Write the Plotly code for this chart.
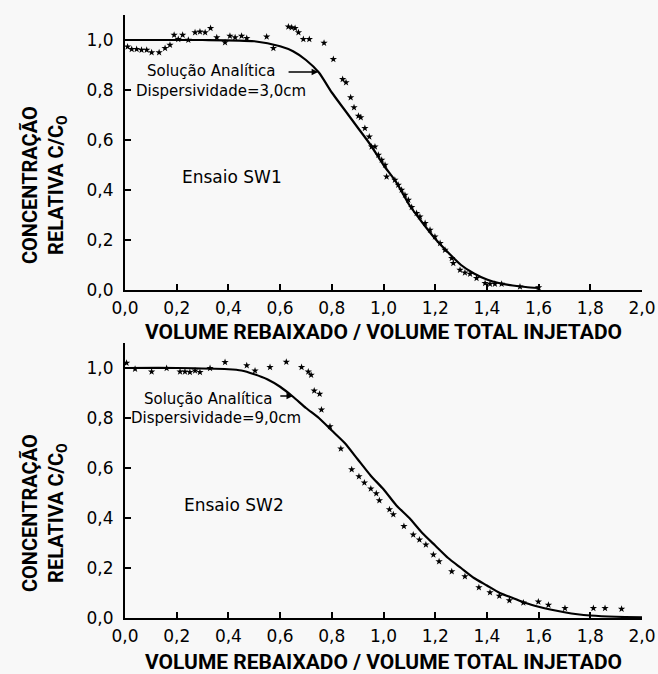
import plotly.graph_objects as go

# ---------------- DATA ----------------
# Ensaio SW1 (top panel) - analytical solution (dispersividade 3,0 cm)
sw1_curve_v = [0.0, 0.3, 0.5, 0.6, 0.65, 0.7, 0.75, 0.8, 0.85, 0.9, 0.95, 1.0, 1.05, 1.1,
               1.15, 1.2, 1.25, 1.3, 1.35, 1.4, 1.45, 1.5, 1.55, 1.6]
sw1_curve_c = [1.0, 1.0, 0.995, 0.975, 0.955, 0.92, 0.87, 0.79, 0.72, 0.65, 0.58, 0.50, 0.43, 0.34,
               0.27, 0.205, 0.15, 0.10, 0.066, 0.042, 0.027, 0.018, 0.012, 0.008]
# Ensaio SW1 observed points
sw1_obs_v = [0.01, 0.026, 0.045, 0.064, 0.084, 0.103, 0.132, 0.155, 0.174, 0.19, 0.206, 0.223,
             0.245, 0.271, 0.29, 0.31, 0.331, 0.355, 0.387, 0.406, 0.426, 0.451, 0.471, 0.548,
             0.574, 0.632, 0.645, 0.658, 0.671, 0.69, 0.713, 0.77, 0.806, 0.842, 0.855, 0.873,
             0.886, 0.903, 0.912, 0.928, 0.945, 0.954, 0.967, 0.98, 0.993, 1.006, 1.012, 1.044,
             1.057, 1.07, 1.083, 1.096, 1.109, 1.128, 1.141, 1.161, 1.18, 1.199, 1.219, 1.238,
             1.264, 1.27, 1.296, 1.315, 1.335, 1.36, 1.393, 1.412, 1.431, 1.457, 1.528, 1.6]
sw1_obs_c = [0.973, 0.963, 0.963, 0.96, 0.96, 0.95, 0.95, 0.967, 0.98, 1.02, 1.003, 1.02,
             1.0, 1.03, 1.033, 1.03, 1.047, 1.01, 0.99, 1.016, 1.01, 1.016, 1.007, 1.013,
             0.967, 1.053, 1.05, 1.047, 1.03, 1.003, 1.003, 0.988, 0.923, 0.843, 0.83, 0.77,
             0.73, 0.696, 0.69, 0.647, 0.613, 0.573, 0.573, 0.54, 0.52, 0.50, 0.453, 0.44,
             0.42, 0.40, 0.38, 0.36, 0.331, 0.307, 0.293, 0.267, 0.24, 0.213, 0.187, 0.16,
             0.127, 0.107, 0.08, 0.069, 0.064, 0.047, 0.027, 0.024, 0.024, 0.024, 0.013, 0.01]

# Ensaio SW2 (bottom panel) - analytical solution (dispersividade 9,0 cm)
sw2_curve_v = [0.0, 0.2, 0.4, 0.45, 0.5, 0.55, 0.6, 0.65, 0.7, 0.75, 0.8, 0.85, 0.9, 0.95, 1.0,
               1.05, 1.1, 1.15, 1.2, 1.25, 1.3, 1.35, 1.4, 1.45, 1.5, 1.55, 1.6, 1.65, 1.7,
               1.75, 1.8, 1.9, 2.0]
sw2_curve_c = [1.0, 1.0, 0.995, 0.99, 0.975, 0.955, 0.925, 0.885, 0.84, 0.80, 0.75, 0.70, 0.635,
               0.57, 0.515, 0.45, 0.40, 0.34, 0.29, 0.24, 0.20, 0.16, 0.13, 0.10, 0.08, 0.06,
               0.045, 0.033, 0.023, 0.015, 0.01, 0.005, 0.003]
# Ensaio SW2 observed points
sw2_obs_v = [0.006, 0.039, 0.103, 0.161, 0.213, 0.232, 0.251, 0.271, 0.29, 0.329, 0.387, 0.471,
             0.503, 0.561, 0.624, 0.683, 0.709, 0.72, 0.732, 0.753, 0.76, 0.793, 0.835, 0.877,
             0.905, 0.926, 0.951, 0.972, 0.984, 1.023, 1.038, 1.079, 1.115, 1.139, 1.164, 1.193,
             1.215, 1.264, 1.315, 1.369, 1.412, 1.448, 1.487, 1.541, 1.599, 1.638, 1.702, 1.812,
             1.857, 1.921]
sw2_obs_c = [1.02, 0.996, 0.985, 0.999, 0.985, 0.985, 0.983, 0.989, 0.983, 0.999, 1.023, 1.01,
             0.989, 1.003, 1.024, 1.003, 0.985, 0.972, 0.909, 0.896, 0.833, 0.766, 0.677, 0.594,
             0.566, 0.541, 0.517, 0.498, 0.47, 0.434, 0.414, 0.367, 0.333, 0.313, 0.293, 0.253,
             0.226, 0.186, 0.166, 0.122, 0.102, 0.088, 0.07, 0.061, 0.065, 0.052, 0.039, 0.039,
             0.039, 0.036]

x_tick_vals = [0.0, 0.2, 0.4, 0.6, 0.8, 1.0, 1.2, 1.4, 1.6, 1.8, 2.0]
x_tick_text = ["0,0", "0,2", "0,4", "0,6", "0,8", "1,0", "1,2", "1,4", "1,6", "1,8", "2,0"]
y_tick_vals = [0.0, 0.2, 0.4, 0.6, 0.8, 1.0]
y_tick_text = ["0,0", "0,2", "0,4", "0,6", "0,8", "1,0"]

x_title = "VOLUME REBAIXADO / VOLUME TOTAL INJETADO"
y_title = "CONCENTRAÇÃO<br>RELATIVA C/C<sub>O</sub>"
curve_label = "Solução Analítica"
disp_labels = ["Dispersividade=3,0cm", "Dispersividade=9,0cm"]
test_labels = ["Ensaio SW1", "Ensaio SW2"]

# ---------------- FIGURE ----------------
W, H = 658, 674
BG = "#f8f8f8"
TXT_FONT = "DejaVu Sans"
TITLE_FONT = "Roboto, sans-serif"

fig = go.Figure()

panels = [
    ("x", "y", sw1_curve_v, sw1_curve_c, sw1_obs_v, sw1_obs_c),
    ("x2", "y2", sw2_curve_v, sw2_curve_c, sw2_obs_v, sw2_obs_c),
]
for xa, ya, cv, cc, ov, oc in panels:
    fig.add_trace(go.Scatter(x=cv, y=cc, xaxis=xa, yaxis=ya, mode="lines",
                             line=dict(color="black", width=2.2, shape="spline", smoothing=0.6),
                             showlegend=False, hoverinfo="skip"))
    fig.add_trace(go.Scatter(x=ov, y=oc, xaxis=xa, yaxis=ya, mode="markers",
                             marker=dict(symbol="star", size=5.5, color="black",
                                         line=dict(width=0)),
                             showlegend=False, cliponaxis=False))

axis_common = dict(showline=True, linecolor="black", linewidth=2, ticks="inside",
                   ticklen=6, tickwidth=1.5, tickcolor="black", showgrid=False,
                   zeroline=False, automargin=False,
                   tickfont=dict(family=TXT_FONT, size=17, color="black"))

x0, x1 = 125 / W, 642 / W
fig.update_layout(
    width=W, height=H, margin=dict(l=0, r=0, t=0, b=0, pad=0),
    paper_bgcolor=BG, plot_bgcolor=BG,
    xaxis=dict(domain=[x0, x1], anchor="y", range=[0, 2.0], tickvals=x_tick_vals,
               ticktext=x_tick_text, ticklabelstandoff=2, **axis_common),
    yaxis=dict(domain=[1 - 290 / H, 1 - 15 / H], anchor="x", range=[0, 1.1],
               tickvals=y_tick_vals, ticktext=y_tick_text, ticklabelstandoff=6,
               **axis_common),
    xaxis2=dict(domain=[x0, x1], anchor="y2", range=[0, 2.0], tickvals=x_tick_vals,
                ticktext=x_tick_text, ticklabelstandoff=2, **axis_common),
    yaxis2=dict(domain=[1 - 618 / H, 1 - 343 / H], anchor="x2", range=[0, 1.1],
                tickvals=y_tick_vals, ticktext=y_tick_text, ticklabelstandoff=6,
                **axis_common),
)

ann_font = dict(family=TXT_FONT, size=15, color="black")
xtitle_font = dict(family=TITLE_FONT, size=21, color="black")
ytitle_font = dict(family=TITLE_FONT, size=20, color="black")

ann_specs = [
    ("x", "y", 0.59, 0.876, (0.627, 0.872), (0.747, 0.872), 0.035, 0.797, 0.414, 0.452,
     1 - 332 / H, 1 - 185 / H),
    ("x2", "y2", 0.58, 0.876, (0.595, 0.888), (0.65, 0.888), 0.015, 0.80, 0.42, 0.454,
     1 - 662 / H, 1 - 513 / H),
]
for i, (xr, yr, lx, ly, tail, head, dx, dy, ex, ey, tpy, ypy) in enumerate(ann_specs):
    fig.add_annotation(x=lx, y=ly, xref=xr, yref=yr, text=curve_label, showarrow=False,
                       xanchor="right", yanchor="middle", font=ann_font)
    fig.add_annotation(x=head[0], y=head[1], ax=tail[0], ay=tail[1], xref=xr, yref=yr,
                       axref=xr, ayref=yr, text="", showarrow=True, arrowhead=2,
                       arrowsize=1, arrowwidth=1.3, arrowcolor="black")
    fig.add_annotation(x=dx, y=dy, xref=xr, yref=yr, text=disp_labels[i], showarrow=False,
                       xanchor="left", yanchor="middle", font=ann_font)
    fig.add_annotation(x=ex, y=ey, xref=xr, yref=yr, text=test_labels[i], showarrow=False,
                       xanchor="center", yanchor="middle",
                       font=dict(family=TXT_FONT, size=17, color="black"))
    fig.add_annotation(x=(x0 + x1) / 2, y=tpy, xref="paper", yref="paper", text=f"<b>{x_title}</b>",
                       showarrow=False, xanchor="center", yanchor="middle", font=xtitle_font)
    fig.add_annotation(x=44 / W, y=ypy, xref="paper", yref="paper", text=f"<b>{y_title}</b>",
                       showarrow=False, xanchor="center", yanchor="middle", textangle=-90,
                       font=ytitle_font)

fig.write_html("out.html")
